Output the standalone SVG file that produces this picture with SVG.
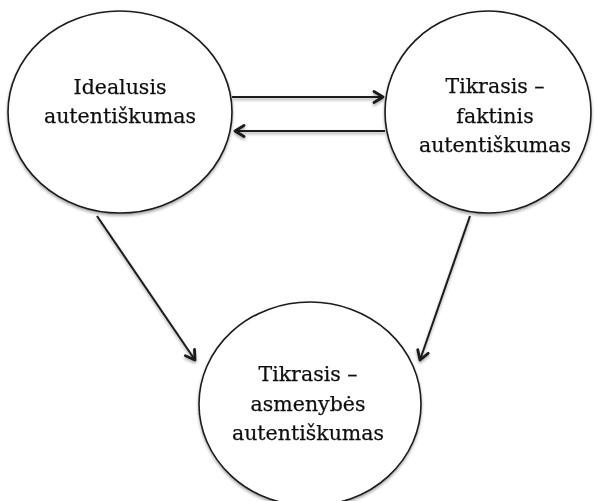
<svg xmlns="http://www.w3.org/2000/svg" width="597" height="501" viewBox="0 0 597 501">
  <defs>
    <filter id="shade" x="-10%" y="-10%" width="120%" height="130%">
      <feGaussianBlur in="SourceAlpha" stdDeviation="1.5"/>
      <feOffset dx="0" dy="2" result="b"/>
      <feComponentTransfer><feFuncA type="linear" slope="0.35"/></feComponentTransfer>
      <feMerge><feMergeNode/><feMergeNode in="SourceGraphic"/></feMerge>
    </filter>
    <marker id="arrow" markerWidth="14" markerHeight="14" refX="11" refY="7" orient="auto" markerUnits="userSpaceOnUse">
      <path d="M2,1.5 L11,7 L2,12.5" fill="none" stroke="#1a1a1a" stroke-width="2.8" stroke-linecap="round" stroke-linejoin="round"/>
    </marker>
  </defs>
  <style>
    .node { fill: #fff; stroke: #1a1a1a; stroke-width: 1.6; }
    .label { font-family: "DejaVu Serif", "Liberation Serif", serif; font-size: 20.5px; fill: #111; text-anchor: middle; stroke: #111; stroke-width: 0.25; }
    .edge { stroke: #1a1a1a; stroke-width: 2; fill: none; marker-end: url(#arrow); }
  </style>
  <rect width="597" height="501" fill="#fff"/>

  <g id="ideal" filter="url(#shade)">
    <ellipse class="node" cx="120" cy="112" rx="112" ry="101"/>
    <text class="label" x="120" y="94">Idealusis</text>
    <text class="label" x="120" y="123">autentiškumas</text>
  </g>

  <g id="faktinis" filter="url(#shade)">
    <ellipse class="node" cx="488" cy="112" rx="103" ry="101"/>
    <text class="label" x="495" y="93">Tikrasis –</text>
    <text class="label" x="495" y="123">faktinis</text>
    <text class="label" x="495" y="152">autentiškumas</text>
  </g>

  <g id="asmenybes" filter="url(#shade)">
    <ellipse class="node" cx="310" cy="404" rx="111" ry="102"/>
    <text class="label" x="308" y="381">Tikrasis –</text>
    <text class="label" x="308" y="411">asmenybės</text>
    <text class="label" x="308" y="440">autentiškumas</text>
  </g>

  <g id="connectors" filter="url(#shade)">
    <line class="edge" x1="232" y1="97" x2="383" y2="97"/>
    <line class="edge" x1="385" y1="131" x2="235" y2="131"/>
    <line class="edge" x1="97" y1="216" x2="195" y2="360"/>
    <line class="edge" x1="470" y1="216" x2="420" y2="360"/>
  </g>
</svg>
